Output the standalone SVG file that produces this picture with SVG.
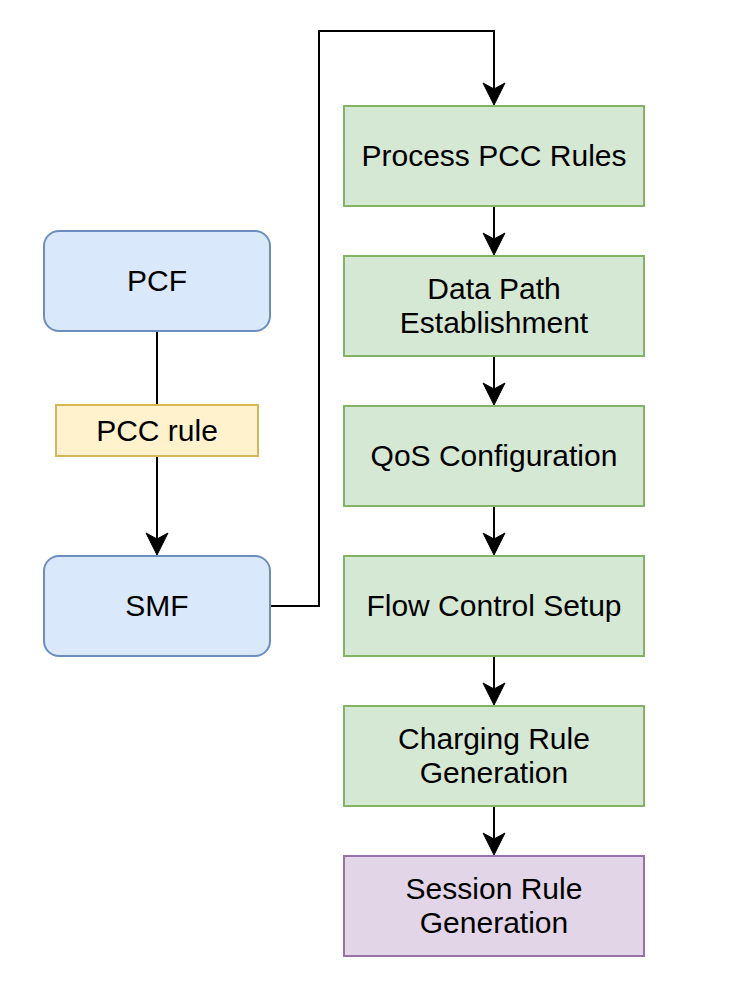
<svg xmlns="http://www.w3.org/2000/svg" width="754" height="1002" viewBox="0 0 754 1002">
<style>
text{font-family:"Liberation Sans",Arial,Helvetica,sans-serif;font-size:30px;fill:#000;text-anchor:middle}
.blue{fill:#dae8fc;stroke:#6c8ebf;stroke-width:2}
.green{fill:#d5e8d4;stroke:#82b366;stroke-width:2}
.yellow{fill:#fff2cc;stroke:#d6b656;stroke-width:2}
.purple{fill:#e1d5e7;stroke:#9673a6;stroke-width:2}
.edge{fill:none;stroke:#000;stroke-width:2}
</style>
<defs>
<marker id="arr" markerUnits="userSpaceOnUse" markerWidth="40" markerHeight="40" refX="0" refY="0" orient="auto" overflow="visible">
<path d="M16,0 L-6,-11 L0,0 L-6,11 Z" fill="#000" stroke="#000" stroke-width="1" stroke-linejoin="miter"/>
</marker>
</defs>
<rect width="754" height="1002" fill="#fff"/>
<g id="connectors">
<path class="edge" d="M157,331 V539" marker-end="url(#arr)"/>
<path class="edge" d="M270,606 H319 V31 H494 V89" marker-end="url(#arr)"/>
<path class="edge" d="M494,206 V239" marker-end="url(#arr)"/>
<path class="edge" d="M494,356 V389" marker-end="url(#arr)"/>
<path class="edge" d="M494,506 V539" marker-end="url(#arr)"/>
<path class="edge" d="M494,656 V689" marker-end="url(#arr)"/>
<path class="edge" d="M494,806 V839" marker-end="url(#arr)"/>
</g>
<g id="pcc-rule">
<rect class="yellow" x="56" y="405" width="202" height="51"/>
<text x="157" y="441">PCC rule</text>
</g>
<g id="pcf">
<rect class="blue" x="44" y="231" width="226" height="100" rx="15"/>
<text x="157" y="291">PCF</text>
</g>
<g id="smf">
<rect class="blue" x="44" y="556" width="226" height="100" rx="15"/>
<text x="157" y="616">SMF</text>
</g>
<g id="process-pcc">
<rect class="green" x="344" y="106" width="300" height="100"/>
<text x="494" y="166">Process PCC Rules</text>
</g>
<g id="data-path">
<rect class="green" x="344" y="256" width="300" height="100"/>
<text x="494" y="298.5">Data Path</text>
<text x="494" y="332.5">Establishment</text>
</g>
<g id="qos">
<rect class="green" x="344" y="406" width="300" height="100"/>
<text x="494" y="466">QoS Configuration</text>
</g>
<g id="flow-control">
<rect class="green" x="344" y="556" width="300" height="100"/>
<text x="494" y="616">Flow Control Setup</text>
</g>
<g id="charging">
<rect class="green" x="344" y="706" width="300" height="100"/>
<text x="494" y="748.5">Charging Rule</text>
<text x="494" y="782.5">Generation</text>
</g>
<g id="session">
<rect class="purple" x="344" y="856" width="300" height="100"/>
<text x="494" y="898.5">Session Rule</text>
<text x="494" y="932.5">Generation</text>
</g>
</svg>
